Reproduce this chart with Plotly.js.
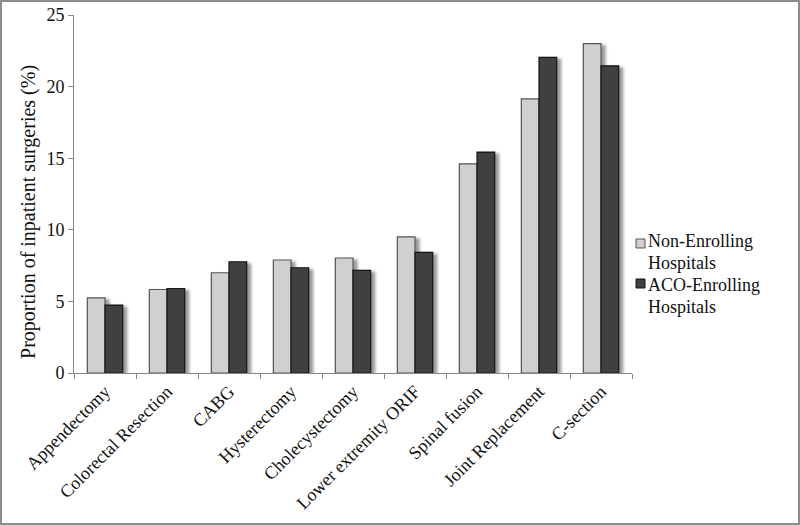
<!DOCTYPE html>
<html>
<head>
<meta charset="utf-8">
<script src="https://cdn.plot.ly/plotly-3.0.1.min.js"></script>
<style>
html,body{margin:0;padding:0;background:#fff;}
#wrap{position:relative;width:800px;height:525px;}
#chart{width:800px;height:525px;}
#frame{position:absolute;left:0;top:0;width:800px;height:525px;box-sizing:border-box;border:2px solid #8c8c8c;pointer-events:none;}
</style>
</head>
<body>
<div id="wrap"><div id="chart"></div><div id="frame"></div></div>
<script>
const categories = ["Appendectomy","Colorectal Resection","CABG","Hysterectomy","Cholecystectomy","Lower extremity ORIF","Spinal fusion","Joint Replacement","C-section"];
const nonEnrolling = [5.25, 5.83, 7.0, 7.89, 8.03, 9.5, 14.6, 19.14, 23.0];
const acoEnrolling = [4.74, 5.9, 7.77, 7.35, 7.16, 8.42, 15.43, 22.04, 21.45];
const seriesLines = [["Non-Enrolling", "Hospitals"], ["ACO-Enrolling", "Hospitals"]];
const yTicks = [0, 5, 10, 15, 20, 25];
const yTitle = "Proportion of inpatient surgeries (%)";

const fam = "Liberation Serif, Times New Roman, serif";
const fills = ["#d0d0d0", "#404040"];
const edges = ["#555", "#151515"];

const traces = [
  {type: "bar", name: seriesLines[0].join(" "), x: categories, y: nonEnrolling,
   marker: {color: fills[0], line: {color: edges[0], width: 1.2}}},
  {type: "bar", name: seriesLines[1].join(" "), x: categories, y: acoEnrolling,
   marker: {color: fills[1], line: {color: edges[1], width: 1.2}}}
];

// legend drawn in paper coordinates beside the plot
const legendRows = [{sym: [0.3492, 0.3743], lines: [0.3687, 0.3073]},
                    {sym: [0.2374, 0.2626], lines: [0.2458, 0.1844]}];
const annotations = [{
  text: yTitle, xref: "paper", yref: "paper", x: -0.0806, y: 0.45,
  xanchor: "center", yanchor: "middle", textangle: -90, showarrow: false,
  font: {family: fam, size: 20, color: "#111"}
}];
const shapes = [];
legendRows.forEach((r, i) => {
  shapes.push({type: "rect", xref: "paper", yref: "paper", x0: 1.0072, x1: 1.0233,
               y0: r.sym[0], y1: r.sym[1], fillcolor: fills[i], line: {color: edges[i], width: 1}});
  seriesLines[i].forEach((t, j) => annotations.push({
    text: t, xref: "paper", yref: "paper", x: 1.0265, y: r.lines[j],
    xanchor: "left", yanchor: "middle", showarrow: false, borderpad: 0,
    font: {family: fam, size: 18, color: "#111"}
  }));
});

const layout = {
  width: 800, height: 525,
  margin: {l: 74, r: 168, t: 15, b: 152},
  paper_bgcolor: "#fff", plot_bgcolor: "#fff",
  font: {family: fam, size: 18, color: "#111"},
  barmode: "group", bargap: 0.43, bargroupgap: 0,
  showlegend: false,
  xaxis: {
    type: "category", tickangle: -45, showline: true, linecolor: "#888", linewidth: 1,
    ticks: "outside", tickson: "boundaries", ticklen: 5, tickcolor: "#888",
    showgrid: false, zeroline: false, tickfont: {family: fam, size: 18, color: "#111"}
  },
  yaxis: {
    range: [0, 25], tickvals: yTicks, ticktext: yTicks.map(String),
    showline: true, linecolor: "#888", linewidth: 1, ticks: "outside", ticklen: 5, tickcolor: "#888",
    showgrid: false, zeroline: false, tickfont: {family: fam, size: 18, color: "#111"}
  },
  annotations: annotations,
  shapes: shapes
};

Plotly.newPlot("chart", traces, layout, {displayModeBar: false, staticPlot: true}).then(gd => {
  const svg = gd.querySelector("svg.main-svg");
  const NS = "http://www.w3.org/2000/svg";
  let defs = svg.querySelector("defs");
  if (!defs) { defs = document.createElementNS(NS, "defs"); svg.insertBefore(defs, svg.firstChild); }
  defs.insertAdjacentHTML("beforeend",
    '<filter id="barshadow" x="-30%" y="-10%" width="180%" height="130%">' +
    '<feGaussianBlur in="SourceAlpha" stdDeviation="1.8"/>' +
    '<feOffset dx="3.5" dy="2" result="b"/>' +
    '<feComponentTransfer><feFuncA type="linear" slope="0.4"/></feComponentTransfer>' +
    '<feMerge><feMergeNode/><feMergeNode in="SourceGraphic"/></feMerge></filter>');
  gd.querySelectorAll(".trace.bars .point path").forEach(p => p.setAttribute("filter", "url(#barshadow)"));
});
</script>
</body>
</html>
